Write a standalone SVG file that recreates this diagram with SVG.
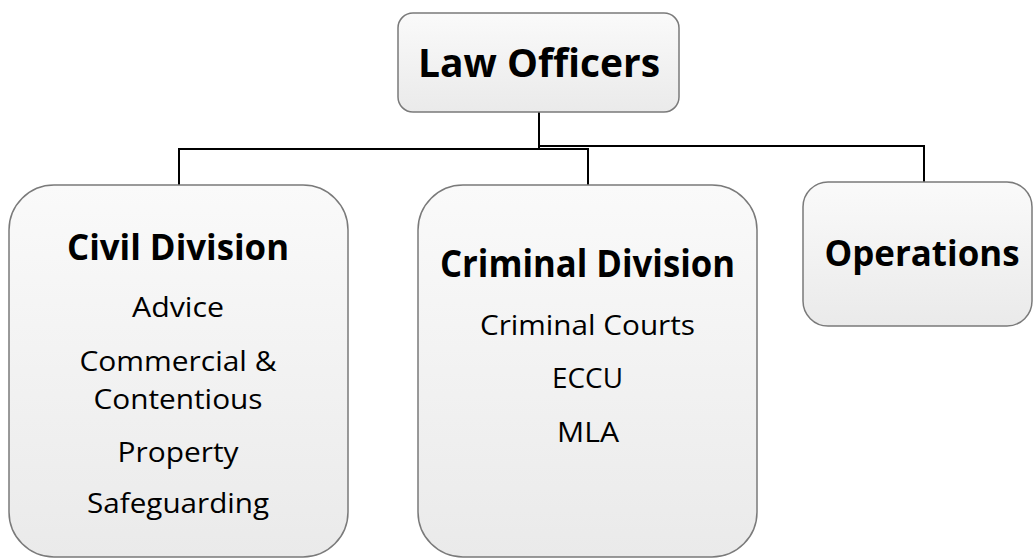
<svg xmlns="http://www.w3.org/2000/svg" width="1034" height="559" viewBox="0 0 1034 559">
<defs>
<linearGradient id="g" x1="0" y1="0" x2="0" y2="1">
<stop offset="0" stop-color="#fafafa"/>
<stop offset="1" stop-color="#eaeaea"/>
</linearGradient>
<style>
.box{fill:url(#g);stroke:#7a7a7a;stroke-width:1.5}
.h{font-family:"Open Sans","Liberation Sans",sans-serif;font-weight:bold;fill:#000;text-anchor:middle}
.t{font-family:"Open Sans","Liberation Sans",sans-serif;font-size:28px;fill:#000;text-anchor:middle}
.c{fill:none;stroke:#000;stroke-width:2}
</style>
</defs>
<rect width="1034" height="559" fill="#fff"/>
<g id="connectors">
<polyline class="c" points="539,112 539,149 179,149 179,185"/>
<polyline class="c" points="539,149 588,149 588,185"/>
<polyline class="c" points="539,146 924,146 924,182"/>
</g>
<g id="law-officers">
<rect class="box" x="398" y="13" width="281" height="99" rx="15"/>
<text class="h" x="539" y="77" font-size="40" textLength="242" lengthAdjust="spacingAndGlyphs">Law Officers</text>
</g>
<g id="civil-division">
<rect class="box" x="9" y="185" width="339" height="372" rx="45"/>
<text class="h" x="178" y="260" font-size="35" textLength="222" lengthAdjust="spacingAndGlyphs">Civil Division</text>
<text class="t" x="178" y="317" textLength="92" lengthAdjust="spacingAndGlyphs">Advice</text>
<text class="t" x="178" y="371" textLength="197" lengthAdjust="spacingAndGlyphs">Commercial &amp;</text>
<text class="t" x="178" y="409" textLength="169" lengthAdjust="spacingAndGlyphs">Contentious</text>
<text class="t" x="178" y="462" textLength="121" lengthAdjust="spacingAndGlyphs">Property</text>
<text class="t" x="178" y="513" textLength="182" lengthAdjust="spacingAndGlyphs">Safeguarding</text>
</g>
<g id="criminal-division">
<rect class="box" x="418" y="185" width="339" height="372" rx="45"/>
<text class="h" x="587.5" y="277" font-size="37" textLength="295" lengthAdjust="spacingAndGlyphs">Criminal Division</text>
<text class="t" x="587.5" y="335" textLength="215" lengthAdjust="spacingAndGlyphs">Criminal Courts</text>
<text class="t" x="587.5" y="388" textLength="71" lengthAdjust="spacingAndGlyphs">ECCU</text>
<text class="t" x="588" y="442" textLength="62" lengthAdjust="spacingAndGlyphs">MLA</text>
</g>
<g id="operations">
<rect class="box" x="803" y="182" width="229" height="144" rx="25"/>
<text class="h" x="922" y="266" font-size="36" textLength="195" lengthAdjust="spacingAndGlyphs">Operations</text>
</g>
</svg>
